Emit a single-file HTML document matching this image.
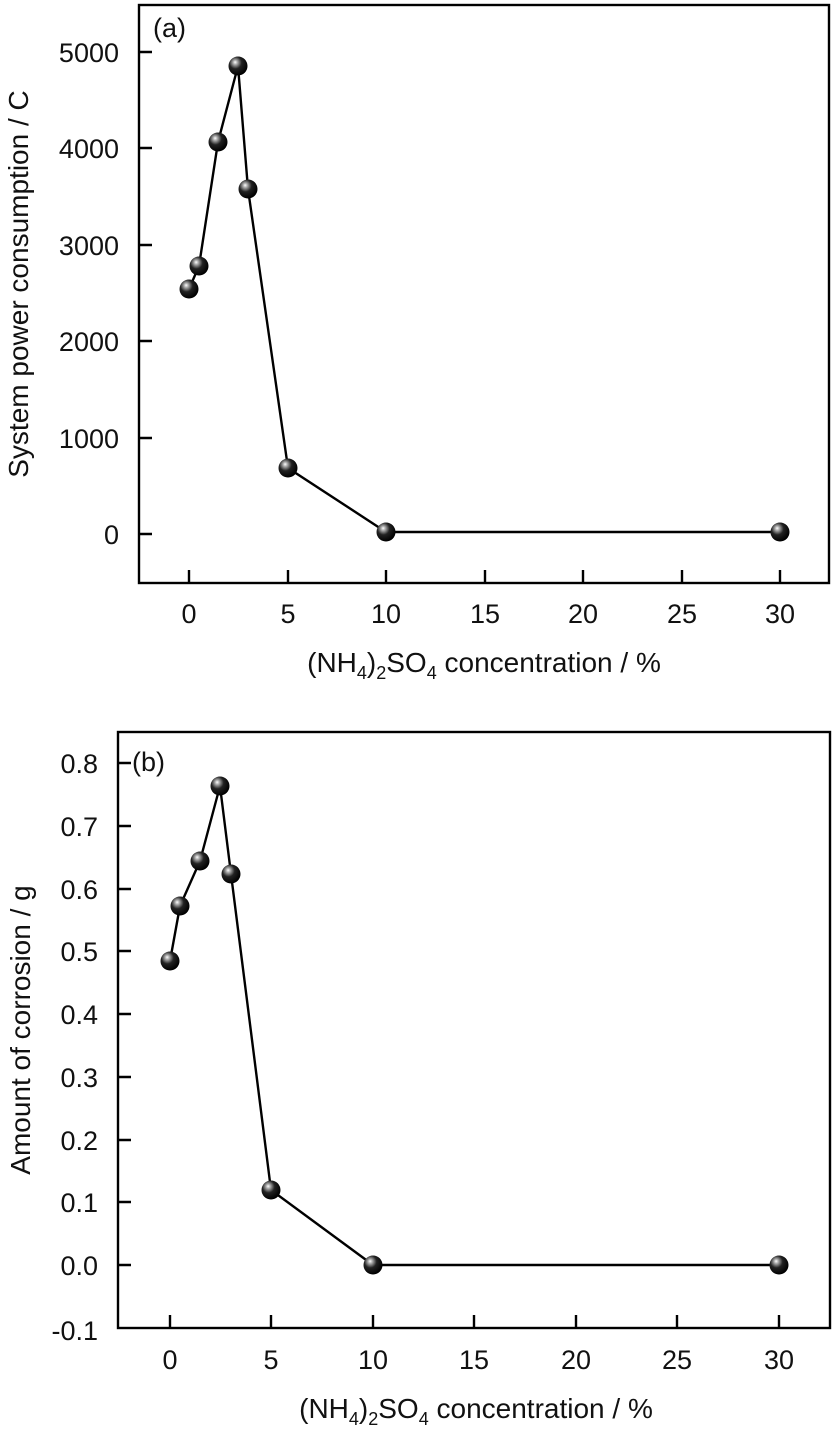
<!DOCTYPE html>
<html><head><meta charset="utf-8"><style>
html,body{margin:0;padding:0;background:#fff;}
svg{display:block;font-family:"Liberation Sans",Arial,sans-serif;}
</style></head><body>
<svg width="839" height="1435" viewBox="0 0 839 1435" xmlns="http://www.w3.org/2000/svg">
<defs>
<radialGradient id="g" cx="0.38" cy="0.35" r="0.65" fx="0.35" fy="0.3">
<stop offset="0" stop-color="#fff"/>
<stop offset="0.18" stop-color="#aaa"/>
<stop offset="0.5" stop-color="#222"/>
<stop offset="1" stop-color="#000"/>
</radialGradient>
</defs>
<g stroke="#000" stroke-width="2.4" fill="none">
<rect x="139" y="5" width="690" height="578"/>
<path d="M139 534h13M139 438h13M139 341h13M139 245h13M139 148h13M139 52h13"/>
<path d="M189 583v-13M288 583v-13M386 583v-13M485 583v-13M583 583v-13M682 583v-13M780 583v-13"/>
<rect x="118" y="732" width="712" height="596"/>
<path d="M118 1265h13M118 1202h13M118 1140h13M118 1077h13M118 1014h13M118 951h13M118 889h13M118 826h13M118 763h13"/>
<path d="M170 1328v-13M271 1328v-13M373 1328v-13M474 1328v-13M576 1328v-13M677 1328v-13M779 1328v-13"/>
</g>
<g stroke="#000" stroke-width="2.4" fill="none">
<polyline points="189,289 199,266 218,142 238,66 248,189 288,468 386,532 780,532"/>
<polyline points="170,961 180,906 200,861 220,786 231,874 271,1190 373,1265 779,1265"/>
</g>
<g fill="url(#g)">
<circle cx="189" cy="289" r="9.5"/><circle cx="199" cy="266" r="9.5"/><circle cx="218" cy="142" r="9.5"/><circle cx="238" cy="66" r="9.5"/><circle cx="248" cy="189" r="9.5"/><circle cx="288" cy="468" r="9.5"/><circle cx="386" cy="532" r="9.5"/><circle cx="780" cy="532" r="9.5"/>
<circle cx="170" cy="961" r="9.5"/><circle cx="180" cy="906" r="9.5"/><circle cx="200" cy="861" r="9.5"/><circle cx="220" cy="786" r="9.5"/><circle cx="231" cy="874" r="9.5"/><circle cx="271" cy="1190" r="9.5"/><circle cx="373" cy="1265" r="9.5"/><circle cx="779" cy="1265" r="9.5"/>
</g>
<g font-size="27" fill="#111">
<g text-anchor="end">
<text x="119" y="544">0</text><text x="119" y="448">1000</text><text x="119" y="351">2000</text><text x="119" y="255">3000</text><text x="119" y="158">4000</text><text x="119" y="62">5000</text>
<text x="98" y="1275">0.0</text><text x="98" y="1212">0.1</text><text x="98" y="1150">0.2</text><text x="98" y="1087">0.3</text><text x="98" y="1024">0.4</text><text x="98" y="961">0.5</text><text x="98" y="899">0.6</text><text x="98" y="836">0.7</text><text x="98" y="773">0.8</text><text x="98" y="1340">-0.1</text>
</g>
<g text-anchor="middle">
<text x="189" y="623">0</text><text x="288" y="623">5</text><text x="386" y="623">10</text><text x="485" y="623">15</text><text x="583" y="623">20</text><text x="682" y="623">25</text><text x="780" y="623">30</text>
<text x="170" y="1369">0</text><text x="271" y="1369">5</text><text x="373" y="1369">10</text><text x="474" y="1369">15</text><text x="576" y="1369">20</text><text x="677" y="1369">25</text><text x="779" y="1369">30</text>
<g font-size="28">
<text x="484" y="672">(NH<tspan font-size="18" dy="7">4</tspan><tspan dy="-7">)</tspan><tspan font-size="18" dy="7">2</tspan><tspan dy="-7">SO</tspan><tspan font-size="18" dy="7">4</tspan><tspan dy="-7"> concentration / %</tspan></text>
<text x="476" y="1418">(NH<tspan font-size="18" dy="7">4</tspan><tspan dy="-7">)</tspan><tspan font-size="18" dy="7">2</tspan><tspan dy="-7">SO</tspan><tspan font-size="18" dy="7">4</tspan><tspan dy="-7"> concentration / %</tspan></text>
<text transform="translate(28,284) rotate(-90)">System power consumption / C</text>
<text transform="translate(30,1030) rotate(-90)">Amount of corrosion / g</text>
</g>
</g>
<text x="153" y="37">(a)</text>
<text x="132" y="771">(b)</text>
</g>
</svg>
</body></html>
